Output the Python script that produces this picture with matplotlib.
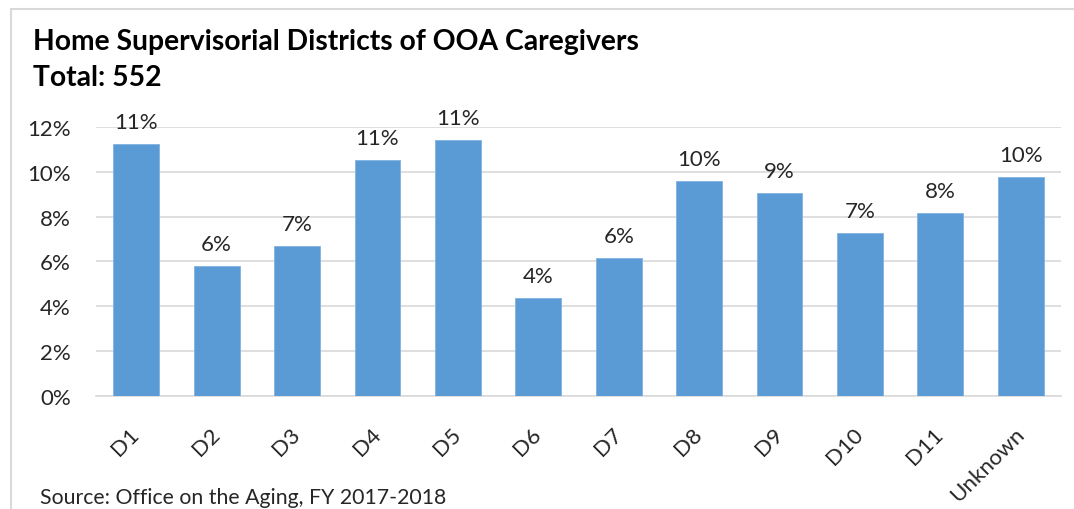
import matplotlib
matplotlib.use("Agg")
import matplotlib.pyplot as plt
from matplotlib.patches import Rectangle
from matplotlib.ticker import FuncFormatter

plt.rcParams['font.family'] = ['Lato', 'DejaVu Sans']

categories = ["D1", "D2", "D3", "D4", "D5", "D6", "D7", "D8", "D9", "D10", "D11", "Unknown"]
values = [11.23, 5.80, 6.70, 10.51, 11.41, 4.35, 6.16, 9.60, 9.06, 7.25, 8.15, 9.78]
labels = ["11%", "6%", "7%", "11%", "11%", "4%", "6%", "10%", "9%", "7%", "8%", "10%"]
yticks = [0, 2, 4, 6, 8, 10, 12]

W, H = 1074, 510
fig = plt.figure(figsize=(W / 100, H / 100), dpi=100)

# outer chart frame
fig.patches.append(Rectangle((11 / W, -0.2), 1.5, 1.2 - 10 / H, transform=fig.transFigure,
                             fill=False, edgecolor='#d9d9d9', linewidth=1.5))

ax = fig.add_axes([96 / W, 113.3 / H, (1061 - 96) / W, (396.7 - 128) / H])
x = list(range(len(categories)))
ax.bar(x, values, width=0.57, color='#5b9bd5', edgecolor='#7fb2e0', linewidth=0.6, zorder=3)
for xi, v, lab in zip(x, values, labels):
    ax.annotate(lab, (xi, v), xytext=(0, 11.5), textcoords='offset points',
                ha='center', va='baseline', fontsize=16, color='#262626', clip_on=False)

ax.set_xlim(-0.5, len(categories) - 0.5)
ax.set_ylim(0, 12)
ax.set_yticks(yticks)
ax.yaxis.set_major_formatter(FuncFormatter(lambda v, p: f"{v:.0f}%"))
ax.grid(axis='y', color='#d9d9d9', linewidth=1.2, zorder=0)
for s in ['top', 'right', 'left']:
    ax.spines[s].set_visible(False)
ax.spines['bottom'].set_color('#d9d9d9')
ax.spines['bottom'].set_linewidth(1.2)
ax.tick_params(axis='y', length=0, pad=18, labelsize=16, labelcolor='#262626')
ax.tick_params(axis='x', length=0, pad=25, labelsize=16, labelcolor='#262626')
ax.set_xticks(x)
ax.set_xticklabels(categories, rotation=45, ha='right', va='center', rotation_mode='anchor')

fig.text(33 / W, 1 - 42 / H, "Home Supervisorial Districts of OOA Caregivers",
         fontsize=20.3, fontweight='bold', color='black', ha='left', va='center')
fig.text(33 / W, 1 - 78 / H, "Total: 552",
         fontsize=20.3, fontweight='bold', color='black', ha='left', va='center')
fig.text(40 / W, 1 - 498 / H, "Source: Office on the Aging, FY 2017-2018",
         fontsize=15.3, color='#262626', ha='left', va='center')

fig.savefig("out.png", dpi=100)
